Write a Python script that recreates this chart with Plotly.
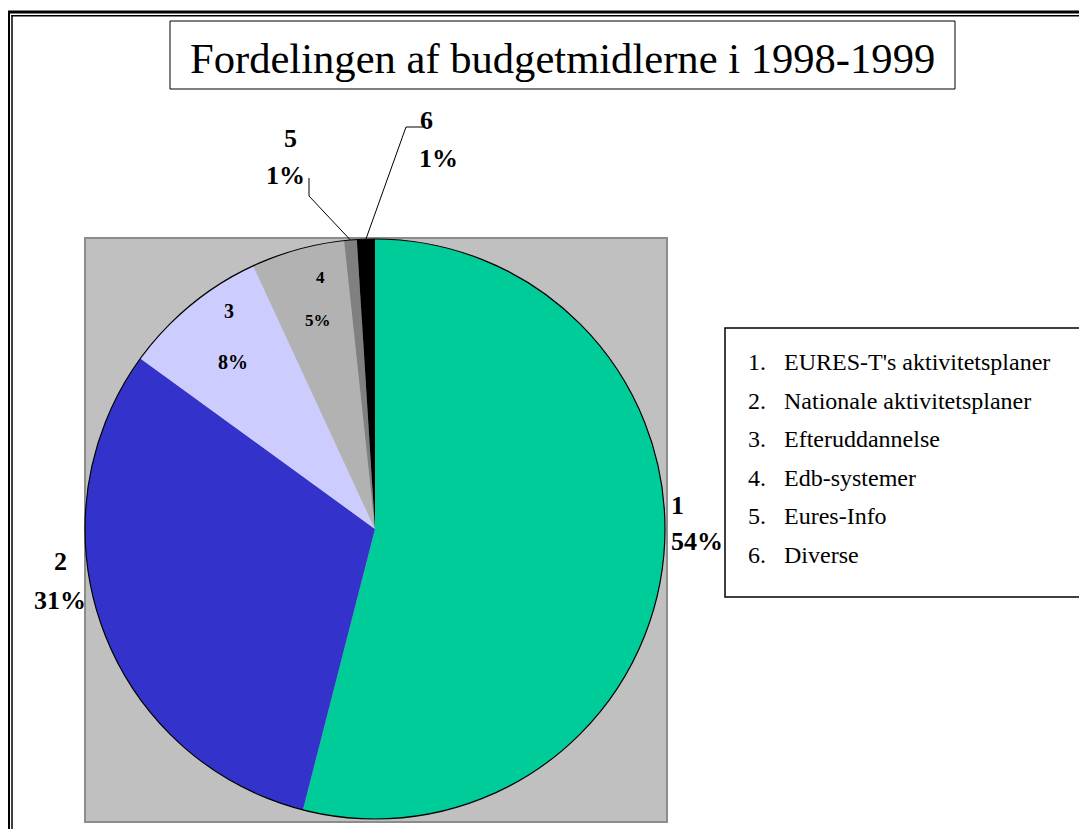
import math
import plotly.graph_objects as go

# ---- data ----
categories = ["EURES-T's aktivitetsplaner", "Nationale aktivitetsplaner", "Efteruddannelse",
              "Edb-systemer", "Eures-Info", "Diverse"]
slice_ids = ["1", "2", "3", "4", "5", "6"]
values = [54.0, 31.0, 8.1, 5.2, 0.7, 1.0]
colors = ["#00CC99", "#3333CC", "#CCCCFF", "#B2B2B2", "#808080", "#000000"]
title_text = "Fordelingen af budgetmidlerne i 1998-1999"

W, H = 1087, 829
OFF = 8  # default page body margin
SERIF = "Liberation Serif"


def px(x):
    return (x - OFF) / W


def py(y):
    return 1 - (y - OFF) / H


# pie geometry (reference pixels)
PL, PR, PT, PB = 85, 665, 238, 820
CX, CY = (PL + PR) / 2, (PT + PB) / 2
RAD = (PR - PL) / 2

total = sum(values)
pct_text = [f"{round(v / total * 100)}%" for v in values]

fig = go.Figure()
fig.add_trace(go.Pie(
    labels=slice_ids, values=values, sort=False, direction="clockwise", rotation=0,
    marker=dict(colors=colors, line=dict(width=0)),
    textinfo="none",
    showlegend=False, hoverinfo="label+percent",
    domain=dict(x=[px(PL), px(PR)], y=[py(PB), py(PT)]),
    automargin=False,
))

black = "black"
shapes = []
# outer double frame (left and top, continuing past the picture)
shapes += [
    dict(type="line", xref="paper", yref="paper", x0=px(8.5), x1=px(8.5), y0=py(11), y1=py(H + 30),
         line=dict(color=black, width=3)),
    dict(type="line", xref="paper", yref="paper", x0=px(7), x1=px(W + 30), y0=py(12), y1=py(12),
         line=dict(color=black, width=3)),
    dict(type="line", xref="paper", yref="paper", x0=px(12), x1=px(12), y0=py(15), y1=py(H + 30),
         line=dict(color=black, width=1.5)),
    dict(type="line", xref="paper", yref="paper", x0=px(11.3), x1=px(W + 30), y0=py(15.7), y1=py(15.7),
         line=dict(color=black, width=1.5)),
]
# grey plot area
shapes.append(dict(type="rect", xref="paper", yref="paper", x0=px(85), y0=py(822), x1=px(667), y1=py(238),
                   line=dict(color="#8C8C8C", width=2), fillcolor="#C0C0C0", layer="below"))
# pie outline
shapes.append(dict(type="circle", xref="paper", yref="paper", x0=px(PL), y0=py(PB - 1), x1=px(PR), y1=py(PT + 1),
                   line=dict(color=black, width=1.2), fillcolor="rgba(0,0,0,0)", layer="above"))
# title box
shapes.append(dict(type="rect", xref="paper", yref="paper", x0=px(170), y0=py(89), x1=px(955), y1=py(21),
                   line=dict(color=black, width=1), fillcolor="white", layer="below"))
# legend box
shapes.append(dict(type="rect", xref="paper", yref="paper", x0=px(725), y0=py(597), x1=px(W + 30), y1=py(328),
                   line=dict(color=black, width=1.5), fillcolor="white", layer="below"))


def rim_point(i):
    start = sum(values[:i])
    mid = (start + values[i] / 2) / total * 2 * math.pi
    return CX + RAD * math.sin(mid), CY - RAD * math.cos(mid)


# leader lines for the two small slices
elbows = {4: [(309, 196), (309, 178)], 5: [(406, 127), (423, 127)]}
for i, pts in elbows.items():
    rx, ry = rim_point(i)
    allp = [(rx, ry)] + pts
    path = "M " + " L ".join(f"{px(x)},{py(y)}" for x, y in allp)
    shapes.append(dict(type="path", xref="paper", yref="paper", path=path,
                       line=dict(color=black, width=1)))

annotations = [dict(text=title_text, xref="paper", yref="paper", x=px(562), y=py(58),
                    xanchor="center", yanchor="middle", showarrow=False,
                    font=dict(family=SERIF, size=42.6, color=black))]

# slice labels: (id position, percent position, font size, anchor)
label_pos = [
    ((669, 505), (669, 541), 26, "left"),
    ((60, 561), (60, 600), 26, "center"),
    ((229, 311), (233, 362), 20, "center"),
    ((320, 277), (318, 321), 17, "center"),
    ((290, 138), (285, 176), 26, "center"),
    ((426, 121), (438, 158), 26, "center"),
]
for i, ((x1, y1), (x2, y2), fs, anc) in enumerate(label_pos):
    for txt, (x, y) in ((slice_ids[i], (x1, y1)), (pct_text[i], (x2, y2))):
        annotations.append(dict(text=f"<b>{txt}</b>", xref="paper", yref="paper", x=px(x), y=py(y),
                                xanchor=anc, yanchor="middle", showarrow=False,
                                font=dict(family=SERIF, size=fs, color=black)))

# legend entries
for i, (sid, name) in enumerate(zip(slice_ids, categories)):
    yy = 362 + i * 38.6
    annotations.append(dict(text=sid + ".", xref="paper", yref="paper", x=px(746), y=py(yy),
                            xanchor="left", yanchor="middle", showarrow=False,
                            font=dict(family=SERIF, size=24, color=black)))
    annotations.append(dict(text=name, xref="paper", yref="paper", x=px(782), y=py(yy),
                            xanchor="left", yanchor="middle", showarrow=False,
                            font=dict(family=SERIF, size=24, color=black)))

fig.update_layout(
    width=W, height=H, margin=dict(l=0, r=0, t=0, b=0),
    paper_bgcolor="white", plot_bgcolor="white",
    shapes=shapes, annotations=annotations,
)

fig.write_html("out.html")
